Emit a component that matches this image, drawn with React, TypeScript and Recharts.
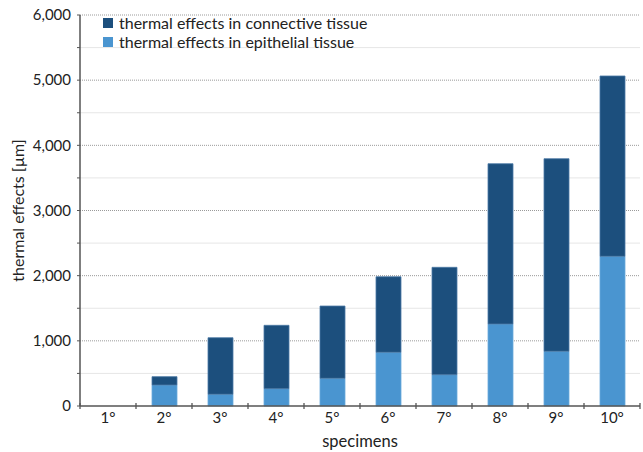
import { BarChart, Bar, XAxis, YAxis, CartesianGrid } from 'recharts';

const specimens = ['1°', '2°', '3°', '4°', '5°', '6°', '7°', '8°', '9°', '10°'];
// stacked segments in µm
const epithelial = [0, 322, 180, 266, 425, 824, 480, 1258, 839, 2297];
const connective = [0, 128, 868, 972, 1109, 1160, 1648, 2460, 2956, 2767];

const yTicks = [0, 500, 1000, 1500, 2000, 2500, 3000, 3500, 4000, 4500, 5000, 5500, 6000];
const majorLines = [1000, 2000, 3000, 4000, 5000, 6000];
const minorLines = [500, 1500, 2500, 3500, 4500, 5500];

const series = [
  { key: 'connective', name: 'thermal effects in connective tissue', color: '#1c4f7d' },
  { key: 'epithelial', name: 'thermal effects in epithelial tissue', color: '#4a95d0' },
];

const data = specimens.map((s, i) => ({
  specimen: s,
  epithelial: epithelial[i],
  connective: connective[i],
}));

const AXIS = '#555';
const FONT = 'Lato, sans-serif';

// x ticks sit between categories and cross the axis line
const XTick = (props: any) => {
  const { x, y, payload, index, visibleTicksCount } = props;
  const half = payload?.offset ?? 28;
  const axisY = y - 10;
  const last = index === (visibleTicksCount ?? specimens.length) - 1;
  return (
    <g>
      <line x1={x - half} x2={x - half} y1={axisY - 3} y2={axisY + 3} stroke={AXIS} strokeWidth={1.3} />
      {last && (
        <line x1={x + half} x2={x + half} y1={axisY - 3} y2={axisY + 3} stroke={AXIS} strokeWidth={1.3} />
      )}
      <text x={x} y={axisY + 17} textAnchor='middle' fill='#222' fontSize={15} fontFamily={FONT}>
        {payload.value}
      </text>
    </g>
  );
};

// legend drawn over the plot, outside recharts layout
const LegendBox = () => (
  <div
    style={{
      position: 'absolute',
      left: 103,
      top: 13,
      fontFamily: FONT,
      fontSize: 16,
      color: '#222',
      lineHeight: '19px',
      whiteSpace: 'nowrap',
    }}
  >
    {series.map((s) => (
      <div key={s.key} style={{ display: 'flex', alignItems: 'center' }}>
        <span style={{ width: 10, height: 10, background: s.color, marginRight: 6, display: 'inline-block' }} />
        {s.name}
      </div>
    ))}
  </div>
);

export default function App() {
  return (
    <div style={{ position: 'absolute', left: 0, top: 0, width: 643, height: 452, background: '#fff' }}>
      <BarChart
        width={643}
        height={452}
        data={data}
        margin={{ top: 15, right: 3, left: 0, bottom: 0 }}
        style={{ fontFamily: FONT }}
      >
        <CartesianGrid
          vertical={false}
          horizontalValues={minorLines}
          stroke='#e6e6e6'
          strokeWidth={1}
        />
        <CartesianGrid
          vertical={false}
          horizontalValues={majorLines}
          stroke='#9a9a9a'
          strokeDasharray='1 1'
          strokeWidth={1}
        />
        <XAxis
          dataKey='specimen'
          height={46}
          tickLine={false}
          tickSize={0}
          tickMargin={10}
          axisLine={{ stroke: AXIS, strokeWidth: 1.5 }}
          tick={<XTick />}
          interval={0}
          label={{
            value: 'specimens',
            position: 'insideBottom',
            offset: 5,
            style: { fill: '#222', fontSize: 16.5, fontFamily: FONT },
          }}
        />
        <YAxis
          width={80}
          domain={[0, 6000]}
          ticks={yTicks}
          interval={0}
          tickSize={3}
          tickMargin={6}
          tickLine={{ stroke: AXIS }}
          axisLine={{ stroke: AXIS, strokeWidth: 1.5 }}
          tickFormatter={(v) => (Number(v) % 1000 === 0 ? Number(v).toLocaleString('en-US') : '')}
          tick={{ fill: '#222', fontSize: 15, fontFamily: FONT }}
          label={{
            value: 'thermal effects [µm]',
            angle: -90,
            position: 'insideLeft',
            offset: 18,
            style: { textAnchor: 'middle', fill: '#222', fontSize: 16, fontFamily: FONT },
          }}
        />
        <Bar
          dataKey='epithelial'
          name='thermal effects in epithelial tissue'
          stackId='a'
          fill='#4a95d0'
          stroke='#6aa9dc'
          strokeWidth={0.8}
          barSize={25}
          isAnimationActive={false}
        />
        <Bar
          dataKey='connective'
          name='thermal effects in connective tissue'
          stackId='a'
          fill='#1c4f7d'
          stroke='#4d7aa6'
          strokeWidth={0.8}
          barSize={25}
          isAnimationActive={false}
        />
      </BarChart>
      <LegendBox />
    </div>
  );
}
